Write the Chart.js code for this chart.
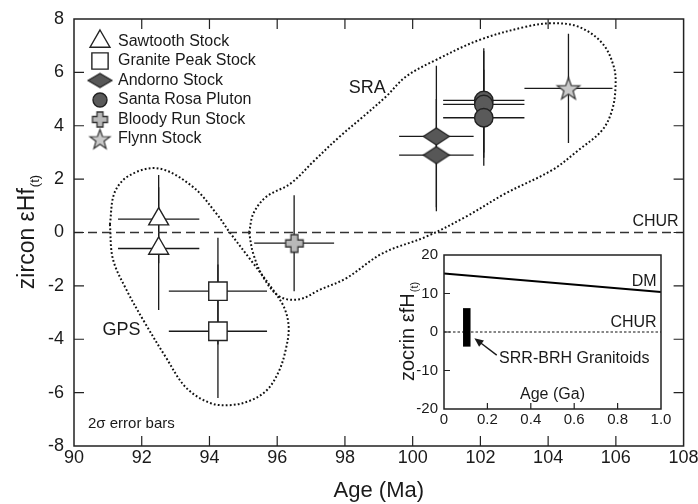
<!DOCTYPE html>
<html>
<head>
<meta charset="utf-8">
<script src="https://cdn.jsdelivr.net/npm/chart.js@4.4.1/dist/chart.umd.min.js"></script>
<style>
  html, body { margin: 0; padding: 0; background: #fff; }
  #wrap { position: relative; width: 698px; height: 504px; }
  #mainChart { position: absolute; left: 0; top: 0; }
  #insetChart { position: absolute; left: 380px; top: 245px; }
</style>
</head>
<body>
<div id="wrap">
  <canvas id="mainChart" width="698" height="504"></canvas>
  <canvas id="insetChart" width="295" height="185"></canvas>
</div>
<script>
const FONT = "'Liberation Sans', Arial, Helvetica, sans-serif";
const INK = "#1a1a1a";

//Axis ticks
const ageTicks = [90, 92, 94, 96, 98, 100, 102, 104, 106, 108];
const hfTicks = [-8, -6, -4, -2, 0, 2, 4, 6, 8];

//Samples (age in Ma, zircon eHf) with 2 sigma errors
const sawtoothAge = [92.5, 92.5];
const sawtoothHf = [0.5, -0.6];
const sawtoothAgeErr = [1.2, 1.2];
const sawtoothHfErr = [1.65, 2.3];

const granitePeakAge = [94.25, 94.25];
const granitePeakHf = [-2.2, -3.7];
const granitePeakAgeErr = [1.45, 1.45];
const granitePeakHfErr = [2.0, 2.5];

const andornoAge = [100.7, 100.7];
const andornoHf = [3.6, 2.9];
const andornoAgeErr = [1.1, 1.1];
const andornoHfErr = [2.65, 2.1];

const santaRosaAge = [102.1, 102.1, 102.1];
const santaRosaHf = [4.95, 4.8, 4.3];
const santaRosaAgeErr = [1.2, 1.2, 1.2];
const santaRosaHfErr = [1.95, 2.0, 1.8];

const bloodyRunAge = [96.5];
const bloodyRunHf = [-0.4];
const bloodyRunAgeErr = [1.18];
const bloodyRunHfErr = [1.8];

const flynnAge = [104.6];
const flynnHf = [5.4];
const flynnAgeErr = [1.3];
const flynnHfErr = [2.05];

//CHUR reference line
const churAge = [90, 108];
const churHf = [0, 0];

//Field outlines
const gpsAge = [91.06, 91.2, 91.65, 92.5, 93.5, 94.2, 94.6, 95.2, 95.85, 96.2, 96.34, 96.25, 96.05, 95.7, 95.2, 94.6, 94.0, 93.3, 92.7, 92.1, 91.55, 91.15, 91.06];
const gpsHf = [0.3, 1.5, 2.15, 2.4, 1.72, 0.72, 0, -1.0, -2.1, -2.8, -3.55, -4.4, -5.2, -5.9, -6.3, -6.47, -6.38, -5.8, -4.65, -3.4, -2.15, -1.0, 0.3];

const sraAge = [95.17, 95.3, 95.68, 96.4, 97.1, 97.84, 98.5, 99.21, 99.8, 100.68, 101.96, 103.34, 104.12, 104.9, 105.6, 105.94, 105.99, 105.89, 105.6, 104.9, 104.12, 102.75, 101.57, 100.39, 99.11, 98.03, 97.25, 96.66, 96.07, 95.58, 95.29, 95.17];
const sraHf = [0, 0.72, 1.34, 1.84, 2.7, 3.59, 4.3, 5.09, 5.84, 6.46, 7.21, 7.71, 7.84, 7.71, 7.09, 6.21, 5.46, 4.59, 3.84, 3.09, 2.34, 1.47, 0.59, -0.16, -0.78, -1.72, -2.15, -2.5, -2.4, -1.66, -0.78, 0];

//Inset (age in Ga)
const insetAgeTicks = [0, 0.2, 0.4, 0.6, 0.8, 1.0];
const insetHfTicks = [-20, -10, 0, 10, 20];
const dmAge = [0, 1.0];
const dmHf = [15.2, 10.4];
const insetChurAge = [0, 1.0];
const insetChurHf = [0, 0];
const granitoidAge = [0.105, 0.105];
const granitoidHf = [-3.8, 6.2];

const toPoints = (xs, ys) => xs.map((x, i) => ({ x: x, y: ys[i] }));

//Marker images for the shapes Chart.js does not have
function markerImage(w, h, draw) {
    const c = document.createElement("canvas");
    c.width = w;
    c.height = h;
    const g = c.getContext("2d");
    draw(g, w / 2, h / 2);
    return c;
}

function diamond(w, h) {
    return markerImage(w + 4, h + 4, (g, cx, cy) => {
        g.beginPath();
        g.moveTo(cx - w / 2, cy);
        g.lineTo(cx, cy - h / 2);
        g.lineTo(cx + w / 2, cy);
        g.lineTo(cx, cy + h / 2);
        g.closePath();
        g.fillStyle = "#575757";
        g.fill();
        g.strokeStyle = "#222";
        g.lineWidth = 1.2;
        g.stroke();
    });
}

function plus(size, arm) {
    return markerImage(size + 4, size + 4, (g, cx, cy) => {
        const a = arm / 2, s = size / 2;
        g.beginPath();
        g.moveTo(cx - a, cy - s);
        g.lineTo(cx + a, cy - s);
        g.lineTo(cx + a, cy - a);
        g.lineTo(cx + s, cy - a);
        g.lineTo(cx + s, cy + a);
        g.lineTo(cx + a, cy + a);
        g.lineTo(cx + a, cy + s);
        g.lineTo(cx - a, cy + s);
        g.lineTo(cx - a, cy + a);
        g.lineTo(cx - s, cy + a);
        g.lineTo(cx - s, cy - a);
        g.lineTo(cx - a, cy - a);
        g.closePath();
        g.fillStyle = "#b9b9b9";
        g.fill();
        g.strokeStyle = "#333";
        g.lineWidth = 1.3;
        g.stroke();
    });
}

function star(outer, inner) {
    const size = Math.ceil(outer * 2 + 4);
    return markerImage(size, size, (g, cx, cy) => {
        g.beginPath();
        for (let i = 0; i < 10; i++) {
            const r = i % 2 === 0 ? outer : inner;
            const a = -Math.PI / 2 + i * Math.PI / 5;
            const px = cx + r * Math.cos(a);
            const py = cy + 1 + r * Math.sin(a);
            if (i === 0) g.moveTo(px, py); else g.lineTo(px, py);
        }
        g.closePath();
        g.fillStyle = "#c9c9c9";
        g.fill();
        g.strokeStyle = "#333";
        g.lineWidth = 1.2;
        g.stroke();
    });
}

const diamondMark = diamond(26, 17);
const diamondLegend = diamond(24, 14);
const plusMark = plus(17.5, 7);
const plusLegend = plus(15, 6);
const starMark = star(11.8, 4.8);
const starLegend = star(10.5, 4.3);

//Sample datasets
const samples = [
    { label: "Sawtooth Stock", age: sawtoothAge, hf: sawtoothHf, ageErr: sawtoothAgeErr, hfErr: sawtoothHfErr,
      pointStyle: "triangle", radius: 11.5, legendRadius: 11.5, fill: "#ffffff" },
    { label: "Granite Peak Stock", age: granitePeakAge, hf: granitePeakHf, ageErr: granitePeakAgeErr, hfErr: granitePeakHfErr,
      pointStyle: "rect", radius: 13, legendRadius: 11.5, fill: "#ffffff" },
    { label: "Andorno Stock", age: andornoAge, hf: andornoHf, ageErr: andornoAgeErr, hfErr: andornoHfErr,
      pointStyle: diamondMark, legendStyle: diamondLegend, radius: 12, fill: "#575757" },
    { label: "Santa Rosa Pluton", age: santaRosaAge, hf: santaRosaHf, ageErr: santaRosaAgeErr, hfErr: santaRosaHfErr,
      pointStyle: "circle", radius: 9.2, legendRadius: 7, fill: "#5a5a5a" },
    { label: "Bloody Run Stock", age: bloodyRunAge, hf: bloodyRunHf, ageErr: bloodyRunAgeErr, hfErr: bloodyRunHfErr,
      pointStyle: plusMark, legendStyle: plusLegend, radius: 9, fill: "#b9b9b9" },
    { label: "Flynn Stock", age: flynnAge, hf: flynnHf, ageErr: flynnAgeErr, hfErr: flynnHfErr,
      pointStyle: starMark, legendStyle: starLegend, radius: 12, fill: "#c9c9c9" }
];

const sampleDatasets = samples.map(s => ({
    label: s.label,
    data: toPoints(s.age, s.hf),
    ageErr: s.ageErr,
    hfErr: s.hfErr,
    legendStyle: s.legendStyle,
    legendRadius: s.legendRadius,
    pointStyle: s.pointStyle,
    pointRadius: s.radius,
    pointBackgroundColor: s.fill,
    pointBorderColor: "#222",
    pointBorderWidth: 1.4,
    showLine: false
}));

const outline = (name, xs, ys) => ({
    label: name,
    data: toPoints(xs, ys),
    showLine: true,
    tension: 0.35,
    pointRadius: 0,
    borderColor: "#111",
    borderWidth: 2,
    borderDash: [1.8, 2.2]
});

function resetCtx(ctx) {
    ctx.setLineDash([]);
    ctx.globalAlpha = 1;
    ctx.globalCompositeOperation = "source-over";
    ctx.textAlign = "left";
    ctx.textBaseline = "alphabetic";
}

//Interior tick values of a scale
function innerTicks(scale) {
    return scale.ticks.map(t => t.value).filter(v => v > scale.min && v < scale.max);
}

//Inward tick marks and a closed frame
function drawFrame(chart, len, sides) {
    const ctx = chart.ctx;
    const a = chart.chartArea;
    const x = chart.scales.x, y = chart.scales.y;
    ctx.save();
    resetCtx(ctx);
    ctx.strokeStyle = "#222222";
    ctx.lineWidth = 1.5;
    ctx.beginPath();
    ctx.rect(a.left, a.top, a.right - a.left, a.bottom - a.top);
    ctx.stroke();
    ctx.lineWidth = 1.2;
    ctx.beginPath();
    innerTicks(x).forEach(v => {
        const px = x.getPixelForValue(v);
        if (sides.bottom) { ctx.moveTo(px, a.bottom); ctx.lineTo(px, a.bottom - len); }
        if (sides.top) { ctx.moveTo(px, a.top); ctx.lineTo(px, a.top + len); }
    });
    innerTicks(y).forEach(v => {
        const py = y.getPixelForValue(v);
        if (sides.left) { ctx.moveTo(a.left, py); ctx.lineTo(a.left + len, py); }
        if (sides.right) { ctx.moveTo(a.right, py); ctx.lineTo(a.right - len, py); }
    });
    ctx.stroke();
    ctx.restore();
}

//Rotated axis title with a small "(t)" subscript
function drawSubTitle(ctx, text, cx, cy, size) {
    ctx.save();
    resetCtx(ctx);
    ctx.translate(cx, cy);
    ctx.rotate(-Math.PI / 2);
    ctx.fillStyle = INK;
    ctx.font = `${size}px ${FONT}`;
    const mainW = ctx.measureText(text).width;
    const subSize = Math.round(size * 0.55);
    ctx.font = `${subSize}px ${FONT}`;
    const subW = ctx.measureText("(t)").width;
    const start = -(mainW + subW) / 2;
    const base = size * 0.36;
    ctx.font = `${size}px ${FONT}`;
    ctx.fillText(text, start, base);
    ctx.font = `${subSize}px ${FONT}`;
    ctx.fillText("(t)", start + mainW + 1, base + size * 0.2);
    ctx.restore();
}

function label(ctx, text, px, py, size, align) {
    ctx.font = `${size}px ${FONT}`;
    ctx.fillStyle = INK;
    ctx.textAlign = align || "center";
    ctx.textBaseline = "middle";
    ctx.fillText(text, px, py);
}

//Error bars under the markers
const errorBars = {
    id: "errorBars",
    beforeDatasetsDraw(chart) {
        const { ctx, scales: { x, y } } = chart;
        ctx.save();
        resetCtx(ctx);
        ctx.strokeStyle = INK;
        ctx.lineWidth = 1.3;
        chart.data.datasets.forEach(ds => {
            if (!ds.ageErr) return;
            ds.data.forEach((p, i) => {
                const px = x.getPixelForValue(p.x);
                const py = y.getPixelForValue(p.y);
                ctx.beginPath();
                ctx.moveTo(x.getPixelForValue(p.x - ds.ageErr[i]), py);
                ctx.lineTo(x.getPixelForValue(p.x + ds.ageErr[i]), py);
                ctx.moveTo(px, y.getPixelForValue(p.y + ds.hfErr[i]));
                ctx.lineTo(px, y.getPixelForValue(p.y - ds.hfErr[i]));
                ctx.stroke();
            });
        });
        ctx.restore();
    }
};

//Frame, legend, titles and field labels
const mainDecor = {
    id: "mainDecor",
    afterDraw(chart) {
        const { ctx, chartArea: a, scales: { x, y } } = chart;
        drawFrame(chart, 10, { top: true, bottom: true, left: true, right: true });

        ctx.save();
        resetCtx(ctx);
        //Legend
        chart.data.datasets.forEach((ds, i) => {
            if (!ds.ageErr) return;
            const ly = 41.5 + i * 19.5;
            ctx.fillStyle = ds.pointBackgroundColor;
            ctx.strokeStyle = "#222";
            ctx.lineWidth = 1.4;
            Chart.helpers.drawPoint(ctx, {
                pointStyle: ds.legendStyle || ds.pointStyle,
                radius: ds.legendRadius || ds.pointRadius,
                borderWidth: 1.4
            }, 100, ly);
            label(ctx, ds.label, 118, ly, 16, "left");
        });

        //Field and reference labels
        label(ctx, "SRA", x.getPixelForValue(98.66), y.getPixelForValue(5.4), 18);
        label(ctx, "GPS", x.getPixelForValue(91.4), y.getPixelForValue(-3.65), 18);
        label(ctx, "CHUR", a.right - 5, y.getPixelForValue(0.42), 16, "right");
        label(ctx, "2\u03c3 error bars", a.left + 14, y.getPixelForValue(-7.17), 15, "left");

        //Axis titles
        label(ctx, "Age (Ma)", (a.left + a.right) / 2, 491, 22);
        ctx.restore();
        drawSubTitle(ctx, "zircon \u03b5Hf", 26, (a.top + a.bottom) / 2, 23);
    }
};

new Chart(document.querySelector("#mainChart"), {
    type: "scatter",
    data: {
        datasets: [
            ...sampleDatasets,
            {
                label: "CHUR",
                data: toPoints(churAge, churHf),
                showLine: true,
                pointRadius: 0,
                borderColor: "#333",
                borderWidth: 1.5,
                borderDash: [9, 5]
            },
            outline("GPS", gpsAge, gpsHf),
            outline("SRA", sraAge, sraHf)
        ]
    },
    options: {
        responsive: false,
        devicePixelRatio: 1,
        animation: false,
        layout: { padding: { left: 0, top: 19, right: 13, bottom: 0 } },
        plugins: {
            legend: { display: false },
            tooltip: { enabled: false }
        },
        scales: {
            x: {
                type: "linear",
                min: 90,
                max: 108,
                afterBuildTicks: s => { s.ticks = ageTicks.map(v => ({ value: v })); },
                afterFit: s => { s.height = 58; s.paddingLeft = 0; s.paddingRight = 0; },
                grid: { display: false, drawTicks: false },
                border: { display: false },
                ticks: { font: { family: FONT, size: 18 }, color: INK, padding: 1, maxRotation: 0 }
            },
            y: {
                type: "linear",
                min: -8,
                max: 8,
                afterBuildTicks: s => { s.ticks = hfTicks.map(v => ({ value: v })); },
                afterFit: s => { s.width = 74; s.paddingTop = 0; s.paddingBottom = 0; },
                grid: { display: false, drawTicks: false },
                border: { display: false },
                ticks: { font: { family: FONT, size: 18 }, color: INK, padding: 10 }
            }
        }
    },
    plugins: [errorBars, mainDecor]
});

//Inset: eHf evolution 0-1 Ga
const insetDecor = {
    id: "insetDecor",
    afterDraw(chart) {
        const { ctx, chartArea: a, scales: { x, y } } = chart;
        drawFrame(chart, 6, { bottom: true, left: true });
        ctx.save();
        resetCtx(ctx);
        label(ctx, "DM", x.getPixelForValue(0.98), y.getPixelForValue(13.0), 16, "right");
        label(ctx, "CHUR", x.getPixelForValue(0.98), y.getPixelForValue(2.4), 16, "right");
        label(ctx, "SRR-BRH Granitoids", x.getPixelForValue(0.254), y.getPixelForValue(-6.8), 16, "left");
        label(ctx, "Age (Ga)", (a.left + a.right) / 2, a.bottom - 14, 16);

        //Arrow to the granitoid bar
        const tx = x.getPixelForValue(0.14), ty = y.getPixelForValue(-1.6);
        const fx = x.getPixelForValue(0.243), fy = y.getPixelForValue(-6.0);
        const ang = Math.atan2(ty - fy, tx - fx);
        ctx.strokeStyle = INK;
        ctx.fillStyle = INK;
        ctx.lineWidth = 1.4;
        ctx.beginPath();
        ctx.moveTo(fx, fy);
        ctx.lineTo(tx - 6 * Math.cos(ang), ty - 6 * Math.sin(ang));
        ctx.stroke();
        ctx.beginPath();
        ctx.moveTo(tx, ty);
        ctx.lineTo(tx - 9 * Math.cos(ang) + 4 * Math.sin(ang), ty - 9 * Math.sin(ang) - 4 * Math.cos(ang));
        ctx.lineTo(tx - 9 * Math.cos(ang) - 4 * Math.sin(ang), ty - 9 * Math.sin(ang) + 4 * Math.cos(ang));
        ctx.closePath();
        ctx.fill();
        ctx.restore();

        drawSubTitle(ctx, "zocrin \u03b5fH", 27, (a.top + a.bottom) / 2, 20);
    }
};

new Chart(document.querySelector("#insetChart"), {
    type: "scatter",
    data: {
        datasets: [
            {
                label: "SRR-BRH Granitoids",
                data: toPoints(granitoidAge, granitoidHf),
                showLine: true,
                pointRadius: 0,
                borderColor: "#000",
                borderWidth: 7.5,
                borderCapStyle: "butt"
            },
            {
                label: "DM",
                data: toPoints(dmAge, dmHf),
                showLine: true,
                pointRadius: 0,
                borderColor: "#000",
                borderWidth: 2
            },
            {
                label: "CHUR",
                data: toPoints(insetChurAge, insetChurHf),
                showLine: true,
                pointRadius: 0,
                borderColor: "#111",
                borderWidth: 1.2,
                borderDash: [2.5, 2]
            }
        ]
    },
    options: {
        responsive: false,
        devicePixelRatio: 1,
        animation: false,
        layout: { padding: { left: 0, top: 10, right: 14, bottom: 0 } },
        plugins: {
            legend: { display: false },
            tooltip: { enabled: false }
        },
        scales: {
            x: {
                type: "linear",
                min: 0,
                max: 1,
                afterBuildTicks: s => { s.ticks = insetAgeTicks.map(v => ({ value: v })); },
                afterFit: s => { s.height = 21; s.paddingLeft = 0; s.paddingRight = 0; },
                grid: { display: false, drawTicks: false },
                border: { display: false },
                ticks: {
                    font: { family: FONT, size: 15 },
                    color: INK,
                    padding: 2,
                    maxRotation: 0,
                    callback: v => v === 0 ? "0" : v.toFixed(1)
                }
            },
            y: {
                type: "linear",
                min: -20,
                max: 20,
                afterBuildTicks: s => { s.ticks = insetHfTicks.map(v => ({ value: v })); },
                afterFit: s => { s.width = 64; s.paddingTop = 0; s.paddingBottom = 0; },
                grid: { display: false, drawTicks: false },
                border: { display: false },
                ticks: { font: { family: FONT, size: 15 }, color: INK, padding: 6 }
            }
        }
    },
    plugins: [insetDecor]
});
</script>
</body>
</html>
